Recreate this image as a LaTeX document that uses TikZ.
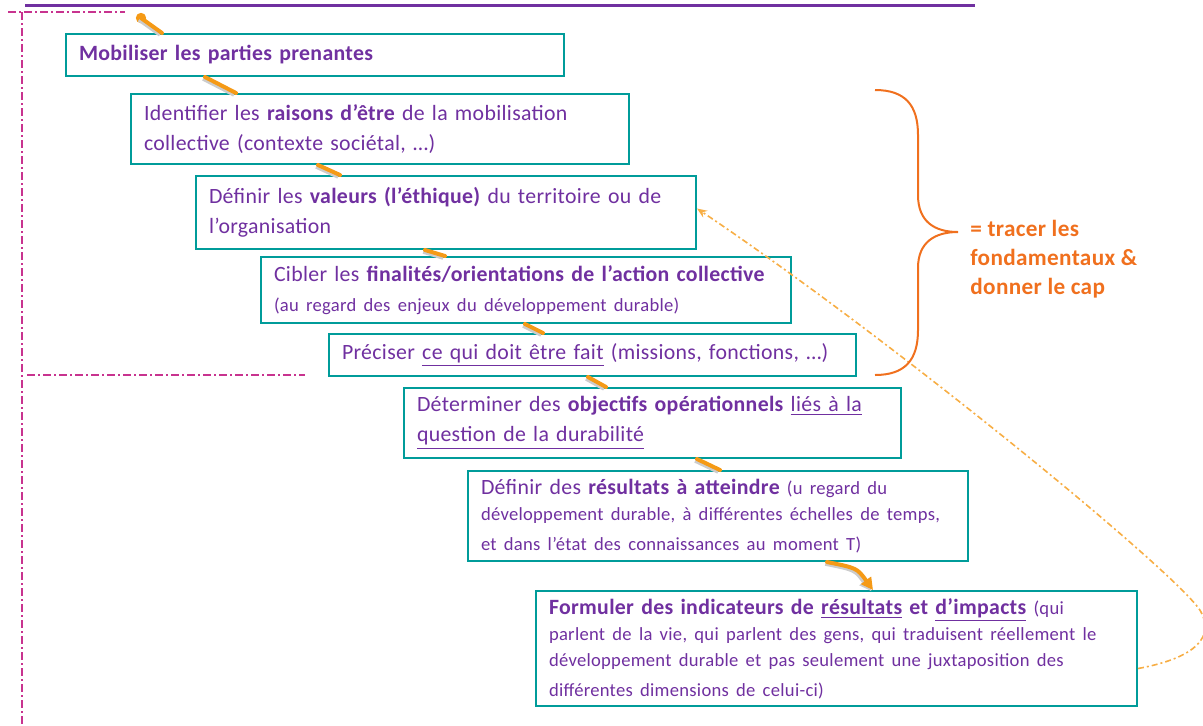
\documentclass[tikz,border=0pt]{standalone}
\usepackage{fontspec}
\setmainfont{Carlito}[LetterSpace=1.5]
\usetikzlibrary{arrows.meta,shadows}

\definecolor{violetTxt}{HTML}{7030A0}
\definecolor{bleuCadre}{HTML}{009C9A}
\definecolor{orangeLien}{HTML}{F59A16}
\definecolor{orangeAcc}{HTML}{F0701E}
\definecolor{roseTrait}{HTML}{C8338F}

\newcommand{\petit}{\fontsize{9.3}{13}\selectfont}

\tikzset{
  etape/.style={draw=bleuCadre, line width=1pt, fill=white, anchor=north west, align=left,
    inner xsep=6pt, text=violetTxt, font=\fontsize{10.9}{15}\selectfont,
    drop shadow={shadow xshift=0.4pt, shadow yshift=-0.7pt, fill=bleuCadre!80!black, opacity=0.6}},
  lien/.style={orangeLien, line width=2pt, line cap=round,
    preaction={draw=black!20, line width=2.6pt, transform canvas={xshift=-0.8pt, yshift=-0.6pt}}},
  retour/.style={orangeLien!80, line width=0.8pt, dash pattern=on 3pt off 1.5pt on 1pt off 1.5pt,
    -{Stealth[length=5pt, width=4pt]}},
  cadre/.style={roseTrait, line width=1pt, dash pattern=on 4pt off 1.5pt on 1pt off 1.5pt},
}

\begin{document}
\begin{tikzpicture}[x=0.5pt, y=-0.5pt]
  \useasboundingbox (0,0) rectangle (1203,725);

  \draw[violetTxt, line width=1.5pt] (25,5) -- (975,5);

  \draw[cadre] (8,12) -- (125,12);
  \draw[cadre] (22,12) -- (22,725);
  \draw[cadre] (27,375) -- (305,375);

  \node[etape, minimum width=249pt, minimum height=21pt, text width=236pt] (b1) at (65,33)
    {\bfseries Mobiliser les parties prenantes};
  \node[etape, minimum width=249pt, minimum height=35pt, text width=236pt] (b2) at (130,93)
    {Identifier les {\bfseries raisons d'être} de la mobilisation\\collective (contexte sociétal, \ldots)};
  \node[etape, minimum width=250pt, minimum height=36.5pt, text width=237pt] (b3) at (195,175)
    {Définir les {\bfseries valeurs (l'éthique)} du territoire ou de\\l'organisation};
  \node[etape, minimum width=265pt, minimum height=33pt, text width=252pt] (b4) at (260,256)
    {Cibler les {\bfseries finalités/orientations de l’action collective}\\\petit (au regard des enjeux du développement durable)};
  \node[etape, minimum width=263.5pt, minimum height=21pt, text width=250.5pt] (b5) at (328,333)
    {Préciser \underline{ce qui doit être fait} (missions, fonctions, \ldots)};
  \node[etape, minimum width=248.5pt, minimum height=35pt, text width=235.5pt] (b6) at (403,387)
    {Déterminer des {\bfseries objectifs opérationnels} \underline{liés à la}\\\underline{question de la durabilité}};
  \node[etape, minimum width=250pt, minimum height=45pt, text width=237pt] (b7) at (467,470)
    {Définir des {\bfseries résultats à atteindre} \petit (u regard du\\développement durable, à différentes échelles de temps,\\et dans l'état des connaissances au moment T)};
  \node[etape, minimum width=300.5pt, minimum height=57.5pt, text width=287.5pt] (b8) at (535,590)
    {{\bfseries Formuler des indicateurs de \underline{résultats} et \underline{d'impacts}} \petit (qui\\parlent de la vie, qui parlent des gens, qui traduisent réellement le\\développement durable et pas seulement une juxtaposition des\\différentes dimensions de celui-ci)};

  \coordinate (depart) at (141,18);
  \fill[orangeLien] (depart) circle (2.6pt);
  \draw[lien] (depart) -- ([xshift=48.5pt]b1.north west);
  \draw[lien] ([xshift=70pt]b1.south west) -- ([xshift=53pt]b2.north west);
  \draw[lien] ([xshift=94pt]b2.south west) -- ([xshift=72.5pt]b3.north west);
  \draw[lien] ([xshift=115pt]b3.south west) -- ([xshift=92.5pt]b4.north west);
  \draw[lien] ([xshift=132.5pt]b4.south west) -- ([xshift=107.5pt]b5.north west);
  \draw[lien] ([xshift=130pt]b5.south west) -- ([xshift=101.5pt]b6.north west);
  \draw[lien] ([xshift=147pt]b6.south west) -- ([xshift=126.5pt]b7.north west);
  \draw[lien, -{Triangle[length=6pt, width=6pt]}] ([xshift=180pt]b7.south west)
    .. controls +(15pt,-3pt) .. ([xshift=169pt]b8.north west);

  \coordinate (virage) at (1201,612);
  \draw[retour] ([yshift=-10pt]b8.east) .. controls (1185,660) and (1217,642) .. (virage)
    .. controls (1185,580) and (900,345) .. ([yshift=2pt]b3.east);

  \draw[orangeAcc, line width=1pt] (875,90) .. controls (905,90) and (918,105) .. (918,135)
    -- (918,195) .. controls (918,222) and (935,232) .. (958,232)
    .. controls (935,232) and (918,242) .. (918,268) -- (918,330)
    .. controls (918,360) and (905,375) .. (875,375);
  \node[anchor=west, align=left, text=orangeAcc, font=\bfseries\fontsize{11.6}{14.5}\selectfont,
    inner sep=0pt] (cap) at (970,259) {= tracer les\\fondamentaux \&\\donner le cap};
\end{tikzpicture}
\end{document}
